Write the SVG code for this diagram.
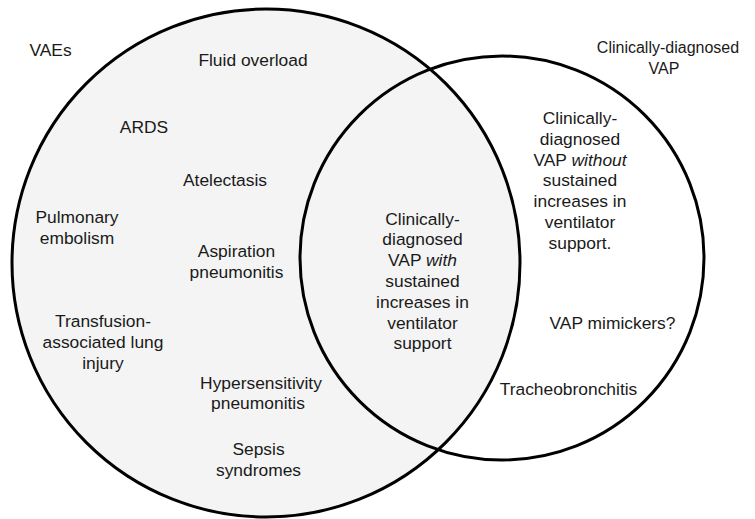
<svg xmlns="http://www.w3.org/2000/svg" width="755" height="519" viewBox="0 0 755 519">
<style>
text{font-family:"Liberation Sans",Arial,sans-serif;font-size:17.4px;fill:#1a1a1a;text-anchor:middle}
text.t{font-size:16px}
.c{stroke:#000;stroke-width:3}
</style>
<rect width="755" height="519" fill="#fff"/>
<g id="vaes">
<circle class="c" cx="266" cy="263" r="254" fill="#f4f4f4"/>
<text x="50.5" y="55.5">VAEs</text>
</g>
<g id="vap">
<circle class="c" cx="502" cy="258" r="202" fill="none"/>
<text class="t" x="668" y="53">Clinically-diagnosed</text>
<text class="t" x="664" y="74">VAP</text>
</g>
<g id="left-items">
<text x="253" y="66">Fluid overload</text>
<text x="144" y="133">ARDS</text>
<text x="225" y="186">Atelectasis</text>
<text x="77" y="223">Pulmonary</text>
<text x="77" y="244">embolism</text>
<text x="236.5" y="257">Aspiration</text>
<text x="236.5" y="278">pneumonitis</text>
<text x="103" y="327">Transfusion-</text>
<text x="103" y="347.5">associated lung</text>
<text x="103" y="368.5">injury</text>
<text x="261" y="388.5">Hypersensitivity</text>
<text x="258" y="409">pneumonitis</text>
<text x="258.5" y="455">Sepsis</text>
<text x="258.5" y="475.5">syndromes</text>
</g>
<g id="overlap">
<text x="422.5" y="224.5">Clinically-</text>
<text x="422.5" y="245.3">diagnosed</text>
<text x="422.5" y="266.1">VAP <tspan font-style="italic">with</tspan></text>
<text x="422.5" y="286.9">sustained</text>
<text x="422.5" y="307.7">increases in</text>
<text x="422.5" y="328.5">ventilator</text>
<text x="422.5" y="349.3">support</text>
</g>
<g id="right-items">
<text x="580" y="124">Clinically-</text>
<text x="580" y="144.8">diagnosed</text>
<text x="580" y="165.6">VAP <tspan font-style="italic">without</tspan></text>
<text x="580" y="186.4">sustained</text>
<text x="580" y="207.2">increases in</text>
<text x="580" y="228">ventilator</text>
<text x="580" y="248.8">support.</text>
<text x="612.5" y="328.5">VAP mimickers?</text>
<text x="568.5" y="395">Tracheobronchitis</text>
</g>
<g id="connectors"/>
</svg>
